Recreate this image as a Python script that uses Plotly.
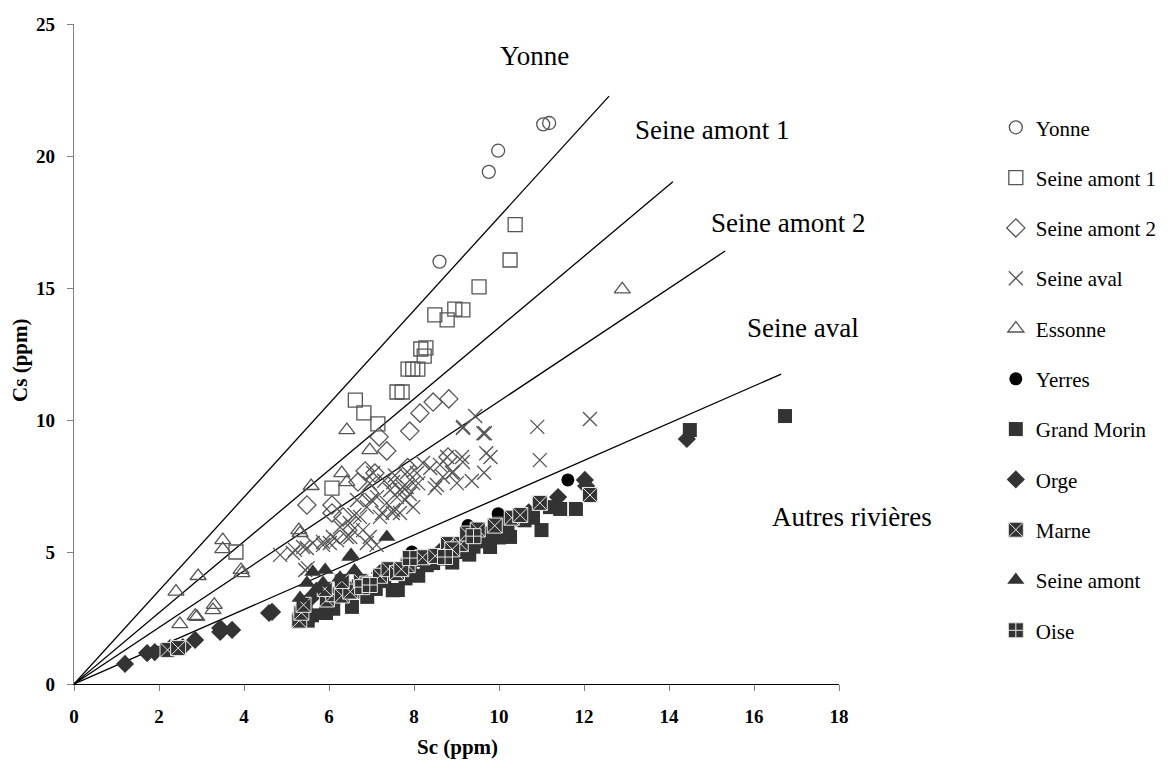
import plotly.graph_objects as go

# ---------------- data ----------------
yonne_x = [8.6, 9.76, 9.98, 11.04, 11.18]
yonne_y = [16.0, 19.4, 20.2, 21.2, 21.25]

sa1_x = [3.81, 6.07, 6.62, 6.82, 7.15, 7.6, 7.72, 7.86, 7.97, 8.09, 8.16, 8.28, 8.24, 8.49, 8.78, 8.96, 9.15, 9.53, 10.26, 10.38]
sa1_y = [5.0, 7.42, 10.75, 10.27, 9.85, 11.06, 11.06, 11.93, 11.93, 11.93, 12.69, 12.73, 12.42, 13.98, 13.79, 14.2, 14.17, 15.04, 16.06, 17.4]

sa2_x = [5.48, 6.07, 6.07, 6.33, 6.68, 6.85, 7.18, 7.36, 7.9, 8.14, 8.45, 8.82, 8.8, 7.85, 7.08, 6.96]
sa2_y = [6.78, 6.78, 6.48, 6.33, 7.65, 8.07, 9.36, 8.83, 9.58, 10.26, 10.68, 10.8, 8.6, 8.2, 7.99, 7.23]

saval_x = [4.85, 5.15, 5.2, 5.39, 5.44, 5.48, 5.5, 5.62, 5.86, 5.86, 6.02, 6.09, 6.19, 6.26, 6.42,
           6.49, 6.5, 6.56, 6.66, 6.73, 6.8, 6.89, 6.89, 6.96, 6.96, 7.0, 7.04, 7.12, 7.13, 7.2,
           7.25, 7.36, 7.44, 7.5, 7.51, 7.51, 7.6, 7.67, 7.67, 7.74, 7.79, 7.83, 7.84, 7.98, 7.98,
           8.07, 8.21, 8.38, 8.49, 8.54, 8.61, 8.68, 8.78, 8.89, 8.92, 9.01, 9.13, 9.15, 9.15, 9.16,
           9.36, 9.44, 9.63, 9.65, 9.67, 9.7, 9.8, 10.9, 10.96, 12.14, 7.3, 7.9, 8.1, 7.55, 6.6]
saval_y = [4.89, 4.96, 5.08, 5.19, 4.32, 5.15, 4.39, 5.34, 5.27, 5.38, 5.34, 5.57, 5.45, 5.95, 5.57,
           6.1, 5.57, 5.83, 6.97, 6.33, 5.83, 6.7, 5.34, 7.61, 5.57, 6.97, 7.99, 5.27, 7.08, 6.33,
           6.48, 6.86, 7.35, 6.48, 7.65, 6.59, 7.08, 6.48, 7.35, 7.46, 6.97, 7.46, 8.03, 7.61, 6.7,
           7.99, 8.37, 8.18, 7.42, 7.54, 8.3, 7.84, 8.6, 8.0, 8.03, 7.61, 8.6, 9.7, 8.41, 9.74,
           7.69, 10.15, 9.5, 8.0, 9.5, 8.74, 8.6, 9.74, 8.48, 10.04, 7.7, 7.2, 7.6, 7.9, 6.4]

ess_x = [2.4, 2.49, 2.85, 2.89, 2.92, 3.27, 3.3, 3.5, 3.5, 3.93, 3.95, 5.29, 5.32, 5.58, 6.3, 6.42, 6.42, 6.96, 12.9]
ess_y = [3.5, 2.27, 2.58, 2.54, 4.09, 2.8, 3.0, 5.45, 5.11, 4.32, 4.2, 5.83, 5.72, 7.5, 7.99, 7.65, 9.62, 8.86, 14.95]

yer_x = [7.95, 9.27, 9.98, 11.62]
yer_y = [5.0, 6.0, 6.45, 7.73]

gm_x = [5.3, 5.4, 5.45, 5.6, 5.93, 6.1, 6.2, 6.54, 6.55, 6.7, 6.9, 7.1, 7.3, 7.5, 7.62, 7.8, 7.9, 8.1,
        8.3, 8.45, 8.7, 8.9, 9.1, 9.3, 9.5, 9.79, 9.8, 10.0, 10.2, 10.26, 10.6, 10.8, 11.0, 11.2,
        11.44, 11.81, 14.49, 16.73, 7.4, 8.0, 9.4, 10.0, 6.0, 5.5]
gm_y = [2.45, 2.8, 3.1, 2.6, 2.69, 2.85, 3.4, 2.92, 3.5, 3.7, 3.3, 3.6, 3.9, 3.55, 3.56, 4.0, 4.3, 4.1,
        4.5, 4.58, 4.75, 4.6, 5.0, 4.9, 5.4, 5.19, 5.7, 5.55, 6.0, 5.57, 6.2, 6.3, 5.83, 6.7,
        6.63, 6.63, 9.62, 10.15, 4.2, 4.7, 5.2, 6.1, 3.35, 2.4]

orge_x = [1.2, 1.72, 1.9, 2.26, 2.56, 2.85, 3.44, 3.44, 3.72, 4.59, 4.66, 5.6, 6.4, 7.2, 8.6, 9.6,
          10.4, 10.7, 11.39, 12.02, 12.05, 14.42]
orge_y = [0.76, 1.17, 1.21, 1.36, 1.4, 1.67, 1.97, 2.12, 2.05, 2.69, 2.73, 3.3, 3.7, 4.2, 5.0, 5.6,
          6.3, 6.5, 7.08, 7.73, 7.5, 9.28]

marne_x = [2.2, 2.45, 5.3, 5.35, 5.4, 5.95, 6.1, 6.3, 6.5, 6.75, 6.9, 7.2, 7.4, 7.6, 7.85, 8.2, 8.5,
           8.8, 9.1, 9.25, 9.5, 9.9, 10.3, 10.5, 10.96, 12.14, 7.7, 8.9, 5.9, 6.3]
marne_y = [1.29, 1.36, 2.4, 2.7, 3.0, 3.2, 3.4, 3.35, 3.5, 3.9, 3.8, 4.1, 4.35, 4.2, 4.5, 4.8, 4.85,
           5.3, 5.3, 5.7, 5.85, 6.0, 6.3, 6.4, 6.86, 7.16, 4.35, 5.1, 3.6, 3.9]

samont_x = [5.32, 5.48, 5.62, 5.86, 5.91, 6.26, 6.49, 6.52, 7.36, 6.6, 5.7]
samont_y = [3.26, 3.83, 4.24, 3.83, 4.32, 4.02, 4.81, 4.89, 5.57, 4.3, 3.6]

oise_x = [6.78, 6.96, 7.9, 8.73, 9.4]
oise_y = [3.67, 3.75, 4.77, 4.81, 5.6]

# reference lines (end points, start at origin)
line_names = ["Yonne", "Seine amont 1", "Seine amont 2", "Seine aval"]
line_end_x = [12.59, 14.09, 15.32, 16.64]
line_end_y = [22.27, 19.02, 16.4, 11.74]

# labels of the lines/zones (data coordinates)
zone_labels = ["Yonne", "Seine amont 1", "Seine amont 2", "Seine aval"]
zone_x = [10.83, 15.0, 16.8, 17.16]
zone_y = [23.8, 21.0, 17.45, 13.5]
other_label = "Autres rivières"

x_ticks = [0, 2, 4, 6, 8, 10, 12, 14, 16, 18]
y_ticks = [0, 5, 10, 15, 20, 25]

SERIF = "Liberation Serif, Times New Roman, serif"
DARK = "#333333"
GRAY = "#555555"

fig = go.Figure()

for lx, ly in zip(line_end_x, line_end_y):
    fig.add_trace(go.Scatter(x=[0, lx], y=[0, ly], mode="lines",
                             line=dict(color="black", width=1.3),
                             showlegend=False, hoverinfo="skip"))

series = [
    ("Yonne", yonne_x, yonne_y, dict(symbol="circle-open", size=13, color=GRAY, line=dict(width=1.3, color=GRAY))),
    ("Seine amont 1", sa1_x, sa1_y, dict(symbol="square-open", size=14, color=GRAY, line=dict(width=1.3, color=GRAY))),
    ("Seine amont 2", sa2_x, sa2_y, dict(symbol="diamond-open", size=14, color=GRAY, line=dict(width=1.3, color=GRAY))),
    ("Seine aval", saval_x, saval_y, dict(symbol="x-thin-open", size=14, color=GRAY, line=dict(width=1.3, color=GRAY))),
    ("Essonne", ess_x, ess_y, dict(symbol="triangle-up-open", size=14, color=GRAY, line=dict(width=1.3, color=GRAY))),
    ("Yerres", yer_x, yer_y, dict(symbol="circle", size=13, color="black", line=dict(width=0))),
    ("Grand Morin", gm_x, gm_y, dict(symbol="square", size=14, color=DARK, line=dict(width=0))),
    ("Orge", orge_x, orge_y, dict(symbol="diamond", size=14, color=DARK, line=dict(width=0))),
    ("Marne", marne_x, marne_y, dict(symbol="square-x", size=15, color=DARK, line=dict(width=1, color="#e8e8e8"))),
    ("Seine amont", samont_x, samont_y, dict(symbol="triangle-up", size=15, color=DARK, line=dict(width=0))),
    ("Oise", oise_x, oise_y, dict(symbol="square-cross", size=15, color=DARK, line=dict(width=1, color="#e8e8e8"))),
]

for i, (name, xs, ys, mk) in enumerate(series):
    fig.add_trace(go.Scatter(x=xs, y=ys, mode="markers", name=name, marker=mk,
                             legendgroup=f"g{i}"))

for txt, zx, zy in zip(zone_labels, zone_x, zone_y):
    fig.add_annotation(x=zx, y=zy, xref="x", yref="y", text=txt, showarrow=False,
                       font=dict(family=SERIF, size=27, color="black"),
                       xanchor="center", yanchor="middle")
fig.add_annotation(x=1.017, y=0.253, xref="paper", yref="paper", text=other_label, showarrow=False,
                   font=dict(family=SERIF, size=27, color="black"),
                   xanchor="center", yanchor="middle")

fig.add_annotation(x=0.5007, y=-0.0955, xref="paper", yref="paper", text="<b>Sc (ppm)</b>",
                   showarrow=False, font=dict(family=SERIF, size=21, color="black"),
                   xanchor="center", yanchor="middle")
fig.add_annotation(x=-0.0706, y=0.491, xref="paper", yref="paper", text="<b>Cs (ppm)</b>",
                   showarrow=False, textangle=-90, font=dict(family=SERIF, size=21, color="black"),
                   xanchor="center", yanchor="middle")

fig.update_layout(
    width=1160, height=754,
    margin=dict(l=66, r=329, t=16, b=78, autoexpand=False),
    paper_bgcolor="white", plot_bgcolor="white",
    font=dict(family=SERIF, color="black"),
    legend=dict(x=1.205, y=0.874, xanchor="left", yanchor="top",
                font=dict(family=SERIF, size=21, color="black"),
                tracegroupgap=20, bgcolor="rgba(0,0,0,0)", itemsizing="trace"),
    xaxis=dict(range=[0, 18], tickvals=x_ticks, ticks="outside", ticklen=6, tickcolor="#808080",
               showline=True, linecolor="black", linewidth=1.2, showgrid=False, zeroline=False,
               tickfont=dict(family=SERIF, size=19, color="black", weight="bold"),
               ticklabelstandoff=9, automargin=False),
    yaxis=dict(range=[0, 25], tickvals=y_ticks, ticks="outside", ticklen=6, tickcolor="#808080",
               showline=True, linecolor="#808080", linewidth=1.2, showgrid=False, zeroline=False,
               tickfont=dict(family=SERIF, size=19, color="black", weight="bold"),
               ticklabelstandoff=8, automargin=False),
)

fig.write_html("out.html")
